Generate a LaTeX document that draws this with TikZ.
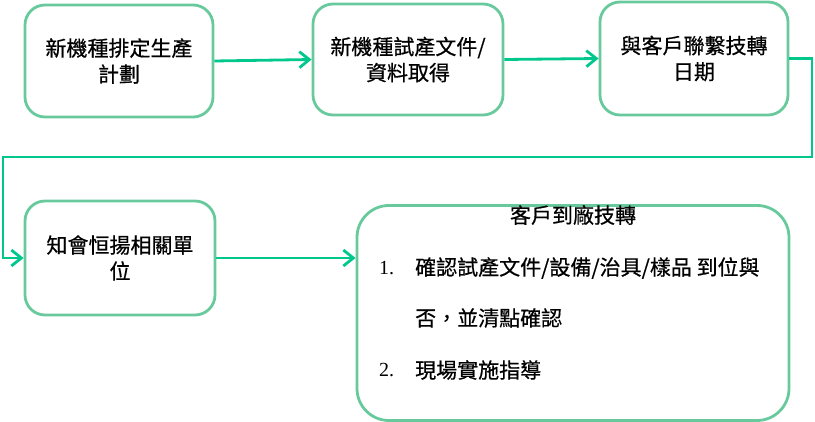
\documentclass[tikz,border=0pt]{standalone}
\usepackage{fontspec}
\setmainfont{Liberation Serif}
\newfontfamily\cjk[FakeBold=0.6]{Noto Sans CJK TC}
\usetikzlibrary{arrows.meta}
\definecolor{boxgreen}{RGB}{104,202,156}
\definecolor{linegreen}{RGB}{0,200,140}
\begin{document}
\begin{tikzpicture}[x=1pt,y=-1pt,
  stepbox/.style={draw=boxgreen, line width=2.8pt, rounded corners=20pt,
    minimum width=188pt, minimum height=112pt, align=center, inner sep=0pt,
    font=\cjk\fontsize{21}{26}\selectfont},
  bigbox/.style={draw=boxgreen, line width=2.8pt, rounded corners=32pt,
    minimum width=432pt, minimum height=215pt, inner sep=0pt},
  conn/.style={draw=linegreen, line width=2.8pt,
    -{Straight Barb[length=10pt,width=16pt,line width=2.8pt]}},
  itemtxt/.style={anchor=west, inner sep=0pt, font=\cjk\fontsize{21}{26}\selectfont},
  titletxt/.style={inner sep=0pt, font=\cjk\fontsize{21}{26}\selectfont},
  numtxt/.style={anchor=west, inner sep=0pt, font=\fontsize{20}{24}\selectfont}
]
\useasboundingbox (0,0) rectangle (815,422);

\node[stepbox] (b1) at (119,61) {新機種排定生產\\計劃};
\node[stepbox, minimum width=190pt, minimum height=111pt] (b2) at (408,59.5) {新機種試產文件/\\資料取得};
\node[stepbox, minimum height=113pt] (b3) at (694,58.5) {與客戶聯繫技轉\\日期};
\node[stepbox, minimum width=190pt, minimum height=114pt] (b4) at (120,258) {知會恒揚相關單\\位};
\node[bigbox] (b5) at (573,313) {};

\node[titletxt] (t0) at (573,215) {客戶到廠技轉};
\node[numtxt] (n1) at (379,268) {1.};
\node[itemtxt] (i1) at (415,268) {確認試產文件/設備/治具/樣品 到位與};
\node[itemtxt] (i1b) at (415,318) {否，並清點確認};
\node[numtxt] (n2) at (379,370) {2.};
\node[itemtxt] (i2) at (415,370) {現場實施指導};

\coordinate (r) at (812,157);
\coordinate (l) at (3,157);

\draw[conn] (b1.east) -- (b2.west);
\draw[conn] (b2.east) -- (b3.west);
\draw[conn] (b3.east) -| (r) -- (l) |- (b4.west);
\draw[conn] (b4.east) -- (b4.east -| b5.west);
\end{tikzpicture}
\end{document}
